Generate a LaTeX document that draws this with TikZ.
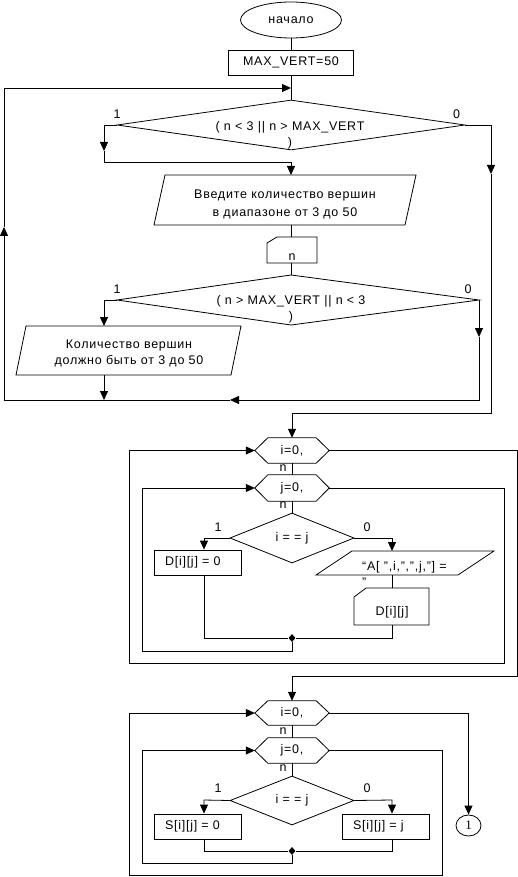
\documentclass[tikz,border=0pt]{standalone}
\usepackage{fontspec}
\setmainfont{Liberation Sans}[LetterSpace=6]
\newfontfamily\circfont{Liberation Serif}
\usetikzlibrary{arrows.meta,shapes.geometric}
\newcommand\hexpath[1]{\draw[outl] (#1.west) -- ([xshift=13pt]#1.north west) -- ([xshift=-13pt]#1.north east) -- (#1.east) -- ([xshift=-13pt]#1.south east) -- ([xshift=13pt]#1.south west) -- cycle;}
\begin{document}
\begin{tikzpicture}[x=1pt,y=-1pt,
  every node/.style={font=\fontsize{12.5}{16}\selectfont, inner sep=0pt},
  outl/.style={draw=black, line width=0.8pt},
  conn/.style={draw=black, line width=0.8pt},
  arr/.style={conn, -{Triangle[length=9pt,width=8pt]}},
  procbox/.style={outl, rectangle, minimum height=25pt, text width=65pt, align=left, inner xsep=11pt},
  hexbox/.style={rectangle, minimum width=74pt},
  cond/.style={outl, diamond, minimum width=124pt, minimum height=50pt},
  dot/.style={diamond, fill=black, minimum width=7pt, minimum height=8pt},
]
\useasboundingbox (0,0) rectangle (518,877);

% ---------- top section ----------
\node[outl, ellipse, minimum width=101pt, minimum height=36pt] (start) at (291,20) {начало};
\node[outl, rectangle, minimum width=125pt, minimum height=25pt] (init) at (291,62.5) {MAX\_VERT=50};
\node[outl, diamond, minimum width=348pt, minimum height=50pt] (d1) at (291,125) {};
\node[align=center] (d1txt) at (290,135) {( n < 3 || n > MAX\_VERT\\)};
\node (d1one) at (117,114.5) {1};
\node (d1zero) at (456.5,114.5) {0};

\coordinate (p1n) at (291,175);
\coordinate (p1s) at (291,225);
\draw[outl] (165,175) -- (416,175) -- (405,225) -- (154,225) -- cycle;
\node[align=center] (p1) at (285,204) {Введите количество вершин\\[2pt]в диапазоне от 3 до 50};

\coordinate (m1n) at (291,237);
\coordinate (m1s) at (291,263);
\draw[outl] (267,243) -- (277,237) -- (317,237) -- (317,263) -- (267,263) -- cycle;
\node (m1) at (292,257) {n};

\coordinate (d2n) at (291,275);
\coordinate (d2e) at (479,300);
\coordinate (d2s) at (291,325);
\coordinate (d2w) at (117,300);
\draw[outl] (d2n) -- (d2e) -- (d2s) -- (d2w) -- cycle;
\node[align=center] (d2txt) at (291,309) {( n > MAX\_VERT || n < 3\\)};
\node (d2one) at (117,289) {1};
\node (d2zero) at (468,289) {0};

\coordinate (p2n) at (104,326);
\coordinate (p2s) at (104,375);
\draw[outl] (26,326) -- (241,326) -- (231,375) -- (16,375) -- cycle;
\node[align=center] (p2) at (129,353) {Количество вершин\\должно быть от 3 до 50};

\draw[conn] (start.south) -- (init.north);
\draw[conn] (init.south) -- (d1.north);
\coordinate (a1) at (104,125);
\coordinate (a2) at (104,151);
\coordinate (a3) at (104,162);
\coordinate (a4) at (291,162);
\draw[arr] (d1.west) -- (a1) -- (a2);
\draw[conn] (a2) -- (a3) -- (a4);
\draw[arr] (a4) -- (p1n);
\draw[conn] (p1s) -- (m1n);
\draw[conn] (m1s) -- (d2n);
\coordinate (b1) at (104,300);
\draw[arr] (d2w) -- (b1) -- (p2n);
\coordinate (b2) at (104,400);
\draw[arr] (p2s) -- (b2);
\coordinate (c1) at (479,337);
\coordinate (c2) at (479,400);
\coordinate (c3) at (230,400);
\coordinate (c4) at (4,400);
\coordinate (c5) at (4,227);
\coordinate (c6) at (4,88);
\coordinate (c7) at (291,88);
\draw[arr] (d2e) -- (c1);
\draw[arr] (c1) -- (c2) -- (c3);
\draw[conn] (c3) -- (c4);
\draw[arr] (c4) -- (c5);
\draw[arr] (c5) -- (c6) -- (c7);

\coordinate (e1) at (491,125);
\coordinate (e2) at (491,174);
\coordinate (e3) at (491,413);
\coordinate (e4) at (292,413);
\draw[arr] (d1.east) -- (e1) -- (e2);
\draw[conn] (e2) -- (e3) -- (e4);

% ---------- middle section ----------
\node[hexbox, minimum height=25pt] (h1) at (292,450.5) {i=0,};
\hexpath{h1}
\node (h1n) at (283,468) {n};
\node[hexbox, minimum height=26pt] (h2) at (292,488) {j=0,};
\hexpath{h2}
\node (h2n) at (283,505.5) {n};
\node[cond] (d3) at (292,538) {i = = j};
\node (d3one) at (218,527) {1};
\node (d3zero) at (367,527) {0};
\node[procbox] (r1) at (197.5,562.5) {D[i][j] = 0};
\draw[outl] (352,551) -- (494,551) -- (458,575) -- (316,575) -- cycle;
\coordinate (p3n) at (392,551);
\coordinate (p3s) at (392,575);
\node[align=left, anchor=north west] (p3) at (362,561) {“A[ ",i,",",j,"] =\\"};
\draw[outl] (354,597) -- (366,588) -- (429,588) -- (429,625) -- (354,625) -- cycle;
\coordinate (m2n) at (392,588);
\coordinate (m2s) at (392,625);
\node (m2) at (392,612) {D[i][j]};
\node[dot] (j1) at (292,638) {};

\draw[arr] (e4) -- (h1.north);
\draw[conn] (h1.south) -- (h2.north);
\draw[conn] (h2.south) -- (d3.north);
\coordinate (f1) at (204,538);
\draw[arr] (d3.west) -- (f1) -- (f1 |- r1.north);
\coordinate (f2) at (392,538);
\draw[arr] (d3.east) -- (f2) -- (p3n);
\draw[conn] (p3s) -- (m2n);
\coordinate (f3) at (204,638);
\coordinate (f4) at (392,638);
\draw[conn] (f1 |- r1.south) -- (f3) -- (j1);
\draw[conn] (m2s) -- (f4) -- (j1);
\coordinate (g1) at (292,651);
\coordinate (g2) at (142,651);
\coordinate (g3) at (142,488);
\draw[arr] (j1) -- (g1) -- (g2) -- (g3) -- (h2.west);
\coordinate (k1) at (504,488);
\coordinate (k2) at (504,663);
\coordinate (k3) at (129,663);
\coordinate (k4) at (129,450.5);
\draw[arr] (h2.east) -- (k1) -- (k2) -- (k3) -- (k4) -- (h1.west);

% ---------- bottom section ----------
\node[hexbox, minimum height=24pt] (h3) at (292,713) {i=0,};
\hexpath{h3}
\node (h3n) at (283,731) {n};
\node[hexbox, minimum height=25pt] (h4) at (292,750.5) {j=0,};
\hexpath{h4}
\node (h4n) at (283,768) {n};
\node[cond, minimum height=49pt] (d4) at (292,800.5) {i = = j};
\node (d4one) at (218,788) {1};
\node (d4zero) at (367,788) {0};
\node[procbox] (r2) at (197.5,826.5) {S[i][j] = 0};
\node[procbox] (r3) at (385.5,826.5) {S[i][j] = j};
\node[dot] (j2) at (292,851) {};
\node[outl, ellipse, minimum width=25pt, minimum height=21pt, font=\circfont\fontsize{13}{13}\selectfont] (conn1) at (468.5,825.5) {1};

\coordinate (q1) at (517,450.5);
\coordinate (q2) at (517,676);
\coordinate (q3) at (292,676);
\draw[arr] (h1.east) -- (q1) -- (q2) -- (q3) -- (h3.north);
\draw[conn] (h3.south) -- (h4.north);
\draw[conn] (h4.south) -- (d4.north);
\coordinate (s1) at (204,800);
\draw[arr] (d4.west) -- (s1) -- (s1 |- r2.north);
\coordinate (s2) at (392,800);
\draw[arr] (d4.east) -- (s2) -- (s2 |- r3.north);
\coordinate (s3) at (204,851);
\coordinate (s4) at (392,851);
\draw[conn] (s1 |- r2.south) -- (s3) -- (j2);
\draw[conn] (s2 |- r3.south) -- (s4) -- (j2);
\coordinate (t1) at (292,863);
\coordinate (t2) at (142,863);
\coordinate (t3) at (142,750.5);
\draw[arr] (j2) -- (t1) -- (t2) -- (t3) -- (h4.west);
\coordinate (u1) at (442,750.5);
\coordinate (u2) at (442,875);
\coordinate (u3) at (129,875);
\coordinate (u4) at (129,713);
\draw[arr] (h4.east) -- (u1) -- (u2) -- (u3) -- (u4) -- (h3.west);
\coordinate (v1) at (468.5,713);
\draw[arr] (h3.east) -- (v1) -- (conn1.north);
\end{tikzpicture}
\end{document}
